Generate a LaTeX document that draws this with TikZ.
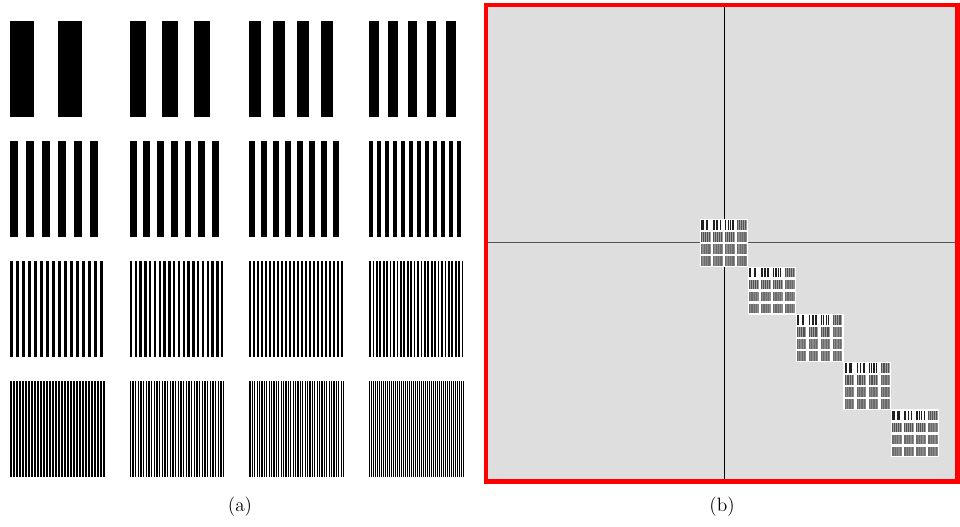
\documentclass[tikz,border=0pt]{standalone}
\definecolor{panelgray}{HTML}{DEDEDE}
\definecolor{hairgray}{HTML}{555555}
% x, y, size, N, colour
\newcommand\barpatc[5]{%
  \pgfmathsetmacro\bw{#3/(2*#4)}%
  \foreach \i in {1,...,#4}{%
    \fill[#5] ({#1+(2*\i-2)*\bw},#2) rectangle ++(\bw,#3);
  }%
}
\newcommand\barpat[4]{\barpatc{#1}{#2}{#3}{#4}{black}}
% mini (thumbnail) pattern: x, y, size, N
\newcommand\minipat[4]{%
  \ifnum#4<5
    \barpatc{#1}{#2}{#3}{#4}{black!88}%
  \else\ifnum#4<9
    \fill[black!38] (#1,#2) rectangle ++(#3,#3);%
    \barpatc{#1}{#2}{#3}{5}{black!68}%
  \else
    \fill[black!46] (#1,#2) rectangle ++(#3,#3);%
    \barpatc{#1}{#2}{#3}{4}{black!58}%
  \fi\fi
}
\def\Nlist{2,3,4,5,6,7,8,12,16,20,24,28,32,36,40,48}
\begin{document}
\begin{tikzpicture}[x=0.75pt,y=-0.75pt,
  lbl/.style={font=\fontsize{14.5}{17}\selectfont, inner sep=0pt}]
\useasboundingbox (0,0) rectangle (960,527);
% (a) left panel
\foreach \n [count=\k from 0] in \Nlist {
  \pgfmathtruncatemacro\c{mod(\k,4)}
  \pgfmathtruncatemacro\r{div(\k,4)}
  \barpat{10+119.7*\c}{21+120*\r}{96}{\n}
}
% (b) right panel
\fill[panelgray] (486,5) rectangle (957.5,481.5);
\coordinate (vt) at (724,7);
\coordinate (vb) at (724,479);
\coordinate (hl) at (488,242.5);
\coordinate (hr) at (955,242.5);
\draw[black, line width=0.75pt] (vt) -- (vb);
\draw[hairgray, line width=1pt] (hl) -- (hr);
\foreach \t in {0,...,4}{
  \pgfmathsetmacro\tx{700+47.8*\t}
  \pgfmathsetmacro\ty{219+47.6*\t}
  \fill[white] (\tx,\ty) rectangle ++(48,48);
  \foreach \n [count=\k from 0] in \Nlist {
    \pgfmathtruncatemacro\c{mod(\k,4)}
    \pgfmathtruncatemacro\r{div(\k,4)}
    \minipat{\tx+1.2+12*\c}{\ty+1.2+12*\r}{9.6}{\n}
  }
}
\draw[red, line width=3.4pt] (486,5) rectangle (957.5,481.5);
\node[lbl] (la) at (240,507) {(a)};
\node[lbl] (lb) at (722,507) {(b)};
\end{tikzpicture}
\end{document}
